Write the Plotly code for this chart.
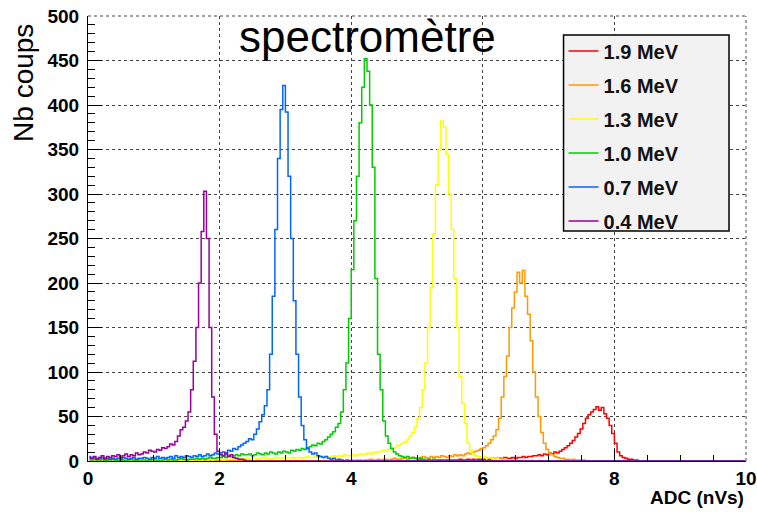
import numpy as np
import plotly.graph_objects as go

# Histogram binning: 250 bins of 0.04 nVs between 0 and 10
bin_width = 0.04
n_bins = 250

labels = ["1.9 MeV", "1.6 MeV", "1.3 MeV", "1.0 MeV", "0.7 MeV", "0.4 MeV"]
colors = ["#ff0000", "#ff9900", "#ffff00", "#00cc00", "#0066ff", "#990099"]

# ADC value of the first listed bin of each spectrum (bins before are empty)
starts = [5.0, 4.0, 0.0, 0.0, 0.0, 0.0]

counts_19 = [0, 1, 0, 0, 1, 0, 1, 0, 1, 1, 0, 1, 1, 0, 1, 1, 2, 1, 1, 2, 1, 2, 1, 2, 2,
             2, 3, 2, 3, 2, 3, 3, 2, 4, 3, 3, 4, 3, 4, 4, 5, 4, 5, 5, 6,
             6, 7, 6, 8, 7, 9, 8, 10, 9, 11,
             13, 15, 17, 20, 23, 27, 31, 36, 42, 48,
             52, 55, 58, 61, 57, 60, 53, 48, 40, 31,
             20, 10, 6, 4, 3, 2, 2, 1, 1, 0]

counts_16 = [1, 0, 1, 1, 0, 1, 1, 2, 1, 1, 2, 1, 2, 2, 1, 2, 3, 2, 2, 3,
             3, 2, 3, 4, 3, 3, 4, 5, 4, 3, 5, 4, 5, 4, 6, 5, 4, 6, 5, 7,
             6, 7, 6, 8, 9, 8, 10, 11, 12, 14,
             15, 17, 20, 24, 28, 35, 48, 72, 95, 118,
             150, 172, 190, 212, 200, 214, 185, 165, 135, 100,
             72, 50, 32, 20, 13, 9, 7, 5, 4, 3,
             3, 2, 2, 1, 2, 1, 1, 0, 1, 0]

counts_13 = [1, 0, 1, 0, 0, 1, 0, 0, 1, 0, 0, 1, 0, 0, 1, 0, 0, 0, 1, 0,
             0, 0, 1, 0, 1, 0, 0, 1, 0, 1, 1, 0, 1, 1, 0, 1, 1, 0, 1, 1,
             1, 2, 1, 1, 2, 1, 2, 1, 2, 2,
             2, 1, 2, 2, 3, 2, 2, 3, 2, 3, 3, 2, 3, 3, 2, 3, 4, 3, 3, 2,
             3, 4, 3, 3, 4, 3, 4, 4, 3, 4, 4, 3, 4, 5, 4, 4, 5, 4, 5, 5,
             5, 4, 5, 6, 5, 6, 5, 7, 6, 6,
             7, 6, 7, 8, 7, 8, 9, 8, 9, 10,
             10, 11, 12, 11, 13, 14, 15, 17, 18, 20,
             21, 24, 28, 32, 38, 48, 60, 80, 110, 150,
             195, 255, 310, 350, 382, 375, 345, 300, 260, 205,
             150, 95, 65, 42, 20, 12, 8, 6, 5, 4,
             5, 3, 4, 3, 2, 3, 2, 1, 2, 1,
             1, 1, 0, 1, 0, 1, 0, 0, 1, 0]

counts_10 = [2, 1, 2, 1, 1, 2, 0, 1, 1, 2, 1, 0, 1, 1, 0, 1, 2, 1, 0, 1,
             1, 1, 0, 1, 2, 1, 1, 0, 1, 2, 1, 2, 1, 1, 2, 3, 2, 1, 2, 2,
             2, 3, 2, 3, 2, 3, 4, 3, 3, 4,
             4, 5, 4, 6, 5, 6, 7, 6, 8, 7,
             7, 8, 6, 7, 9, 8, 7, 9, 8, 10,
             9, 8, 10, 9, 11, 10, 9, 12, 11, 13,
             12, 14, 13, 15, 16, 18, 17, 20, 19, 22,
             24, 27, 30, 33, 38, 42, 55, 80, 110, 160,
             215, 270, 320, 380, 420, 452, 438, 400, 330, 205,
             120, 80, 45, 28, 20, 14, 10, 8, 6, 5,
             4, 5, 3, 4, 3, 2, 3, 2, 1, 2,
             1, 2, 1, 1, 0, 1, 1, 0, 1, 0]

counts_07 = [5, 3, 4, 2, 3, 4, 2, 3, 2, 3,
             2, 3, 2, 4, 3, 2, 3, 4, 2, 3,
             3, 4, 3, 2, 4, 3, 5, 3, 4, 3,
             4, 5, 3, 6, 4, 5, 4, 6, 5, 4,
             6, 5, 7, 5, 6, 8, 6, 7, 9, 8,
             9, 10, 8, 12, 11, 14, 13, 16, 18, 20,
             22, 25, 24, 30, 36, 44, 52, 62, 80, 120,
             185, 260, 340, 395, 422, 392, 320, 250, 180, 120,
             72, 40, 24, 14, 10, 8, 9, 6, 5, 4,
             5, 3, 2, 3, 1, 2, 1, 0, 1, 0]

counts_04 = [4, 3, 5, 2, 4, 6, 3, 5, 4, 6,
             5, 7, 4, 6, 8, 5, 7, 6, 9, 7,
             8, 10, 9, 12, 11, 10, 13, 12, 15, 14,
             16, 19, 18, 22, 28, 35,
             38, 45, 55, 80, 112, 150, 200, 258, 303, 250, 150, 72,
             30, 11, 7, 6, 9, 5, 7, 4, 3, 2, 2, 1]

spectra = [counts_19, counts_16, counts_13, counts_10, counts_07, counts_04]

centers = (np.arange(n_bins) + 0.5) * bin_width

fig = go.Figure()
for i, (counts, start) in enumerate(zip(spectra, starts)):
    h = np.zeros(n_bins)
    i0 = int(round(start / bin_width))
    h[i0:i0 + len(counts)] = counts
    fig.add_trace(go.Scatter(
        x=centers, y=h,
        mode="lines",
        line=dict(color=colors[i], width=1.5, shape="hvh"),
        name=labels[i],
        legendgroup=f"g{i}",
    ))

font_bold = dict(family="Liberation Sans, Arial, sans-serif", size=19, color="black", weight="bold")

axis_common = dict(
    showline=True, linecolor="black", linewidth=1, mirror=False,
    ticks="inside", tickcolor="black",
    showgrid=True, gridcolor="#444444", griddash="dot", gridwidth=1,
    zeroline=False, tickfont=font_bold, ticklabeloverflow="allow", automargin=False,
)

fig.update_xaxes(range=[0, 10], dtick=2, tick0=0, ticklen=12,
                 minor=dict(dtick=0.5, ticks="inside", ticklen=6, tickcolor="black", showgrid=False),
                 ticklabelstandoff=0, **axis_common)
fig.update_yaxes(range=[0, 500], dtick=50, tick0=0, ticklen=14,
                 minor=dict(dtick=10, ticks="inside", ticklen=7, tickcolor="black", showgrid=False),
                 ticklabelstandoff=4, **axis_common)

grid_edge = dict(color="#444444", width=1, dash="dot")

fig.update_layout(
    width=757, height=512,
    margin=dict(l=88, r=11, t=16, b=51),
    plot_bgcolor="white", paper_bgcolor="white",
    showlegend=True,
    legend=dict(
        x=0.7227, y=0.965, xanchor="left", yanchor="top",
        bgcolor="rgba(0,0,0,0)", borderwidth=0,
        font=dict(family="Liberation Sans, Arial, sans-serif", size=20, color="#111111", weight="bold"),
        tracegroupgap=5, traceorder="grouped",
    ),
    shapes=[
        # grid lines on the frame edges (top and right)
        dict(type="line", xref="paper", yref="paper", x0=1, x1=1, y0=0, y1=1,
             line=grid_edge, layer="below"),
        dict(type="line", xref="paper", yref="paper", x0=0, x1=1, y0=1, y1=1,
             line=grid_edge, layer="below"),
        dict(type="rect", xref="paper", yref="paper",
             x0=0.7227, x1=0.9742, y0=0.5169, y1=0.9573,
             fillcolor="#f2f2f2", line=dict(color="black", width=1.5), layer="above"),
    ],
    annotations=[
        dict(text="spectromètre", xref="paper", yref="paper", x=0.4242, y=0.953,
             xanchor="center", yanchor="middle", showarrow=False,
             font=dict(family="Liberation Sans, Arial, sans-serif", size=44, color="black")),
        dict(text="Nb coups", xref="paper", yref="paper", x=-0.097, y=0.85,
             xanchor="center", yanchor="middle", textangle=-90, showarrow=False,
             font=dict(family="Liberation Sans, Arial, sans-serif", size=28, color="black")),
        dict(text="ADC (nVs)", xref="paper", yref="paper", x=1.0, y=-0.083,
             xanchor="right", yanchor="middle", showarrow=False,
             font=font_bold),
    ],
)

# page body margin would otherwise shift the 757x512 figure off the window
fig.write_html("out.html", config={"displayModeBar": False},
               post_script="document.body.style.margin = '0';")
